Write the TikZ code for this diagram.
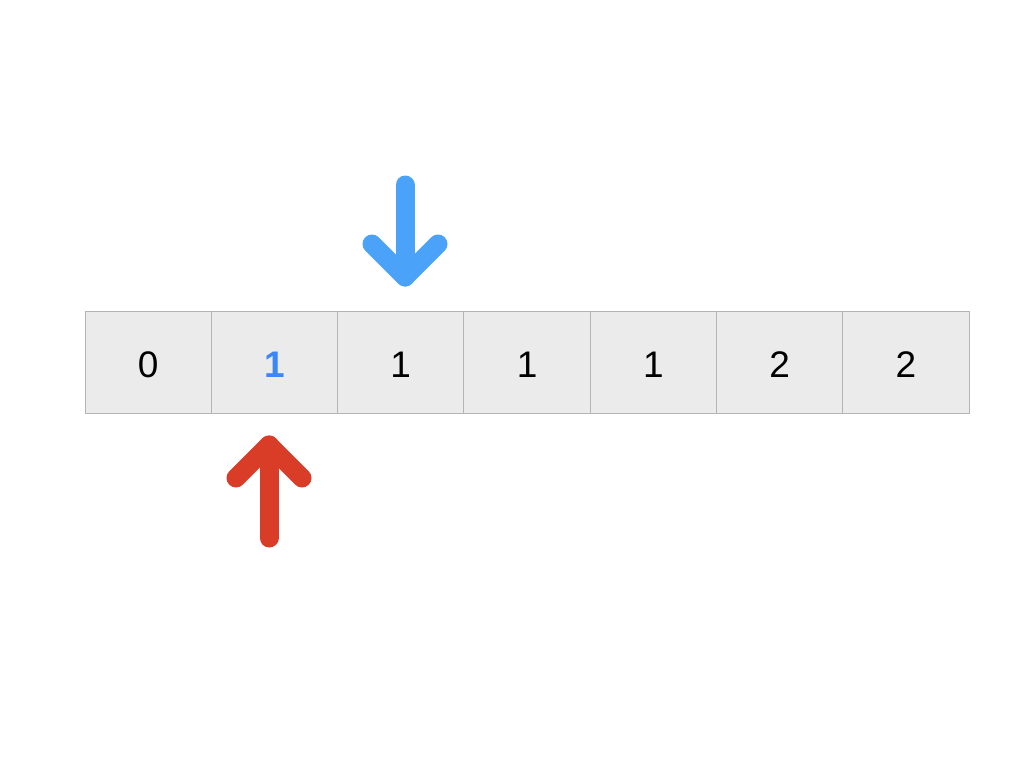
\documentclass[tikz,border=0pt]{standalone}
\usepackage{fontspec}
\setmainfont{Liberation Sans}
\definecolor{cellfill}{HTML}{EBEBEB}
\definecolor{cellline}{HTML}{B4B4B4}
\definecolor{arrblue}{HTML}{4BA3F9}
\definecolor{arrred}{HTML}{D93D27}
\definecolor{txtblue}{HTML}{3C86F5}
\begin{document}
\begin{tikzpicture}[x=1pt,y=-1pt,
  cell/.style={draw=cellline,fill=cellfill,line width=1pt,minimum width=126.3pt,minimum height=102pt,inner sep=0pt,outer sep=0pt,anchor=north west},
  digit/.style={font=\fontsize{37}{37}\selectfont,yshift=-3pt},
  fat/.style={line width=19pt,line cap=round,line join=round}]
\useasboundingbox (0,0) rectangle (1024,768);
\foreach \i in {0,...,6}{
  \node[cell] (c\i) at (85+126.3*\i,311) {};
}
\node[digit] (t0) at (c0) {0};
\node[digit,text=txtblue,font=\fontsize{37}{37}\selectfont\bfseries] (t1) at (c1) {1};
\node[digit] (t2) at (c2) {1};
\node[digit] (t3) at (c3) {1};
\node[digit] (t4) at (c4) {1};
\node[digit] (t5) at (c5) {2};
\node[digit] (t6) at (c6) {2};
% blue arrow
\coordinate (bs) at (405,185);
\coordinate (bt) at (405,277);
\coordinate (bl) at (372,244);
\coordinate (br) at (438,244);
\draw[fat,arrblue] (bs) -- (bt);
\draw[fat,arrblue] (bl) -- (bt) -- (br);
% red arrow
\coordinate (rs) at (269,538);
\coordinate (rt) at (269,445);
\coordinate (rl) at (236,478);
\coordinate (rr) at (302,478);
\draw[fat,arrred] (rs) -- (rt);
\draw[fat,arrred] (rl) -- (rt) -- (rr);
\end{tikzpicture}
\end{document}
